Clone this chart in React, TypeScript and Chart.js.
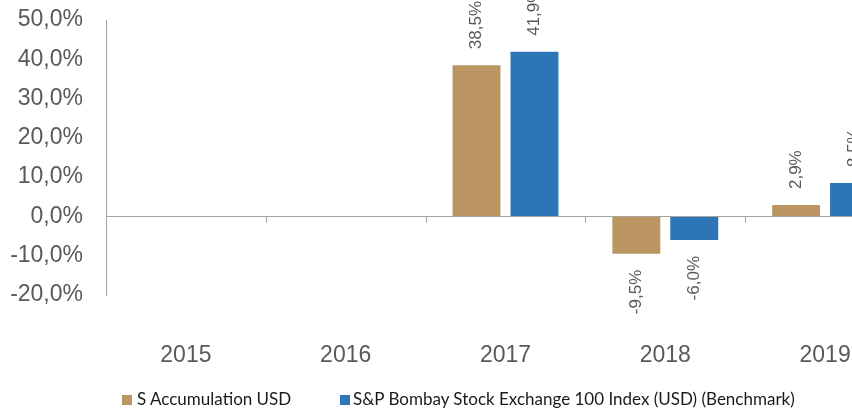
import React, { useEffect, useRef } from "react";
import { Chart, registerables } from "chart.js";

Chart.register(...registerables);

const categories = ["2015", "2016", "2017", "2018", "2019"];
const fundValues: (number | null)[] = [null, null, 38.5, -9.5, 2.9];
const benchmarkValues: (number | null)[] = [null, null, 41.9, -6.0, 8.5];
const seriesNames = [
  "S Accumulation USD",
  "S&P Bombay Stock Exchange 100 Index (USD) (Benchmark)",
];
const seriesColors = ["#BB9662", "#2E75B6"];
const yMin = -20;
const yMax = 50;
const yStep = 10;

const fmt = (v: number) => v.toFixed(1).replace(".", ",") + "%";

const AXIS_GRAY = "#A3A3A3";
const TEXT_GRAY = "#595959";

const extrasPlugin = {
  id: "extras",
  afterDatasetsDraw(chart: any) {
    const { ctx, chartArea } = chart;
    const x = chart.scales.x;
    const y = chart.scales.y;
    const zeroY = y.getPixelForValue(0);
    ctx.save();
    // category boundary tick marks below the zero line
    ctx.strokeStyle = AXIS_GRAY;
    ctx.lineWidth = 1;
    const n = categories.length;
    const bounds: number[] = [chartArea.left];
    for (let i = 0; i < n - 1; i++) {
      bounds.push((x.getPixelForValue(i) + x.getPixelForValue(i + 1)) / 2);
    }
    bounds.push(chartArea.right);
    bounds.forEach((bx) => {
      const px = Math.round(bx) + 0.5;
      ctx.beginPath();
      ctx.moveTo(px, Math.round(zeroY));
      ctx.lineTo(px, Math.round(zeroY) + 7);
      ctx.stroke();
    });
    // data labels
    ctx.fillStyle = TEXT_GRAY;
    ctx.font = "17px 'Liberation Sans', Arial, sans-serif";
    ctx.textBaseline = "middle";
    chart.data.datasets.forEach((ds: any, di: number) => {
      const meta = chart.getDatasetMeta(di);
      meta.data.forEach((bar: any, i: number) => {
        const v = ds.data[i];
        if (v === null || v === undefined) return;
        ctx.save();
        if (v >= 0) {
          ctx.translate(bar.x, bar.y - 16);
          ctx.rotate(-Math.PI / 2);
          ctx.textAlign = "left";
        } else {
          ctx.translate(bar.x, bar.y + 16);
          ctx.rotate(-Math.PI / 2);
          ctx.textAlign = "right";
        }
        ctx.fillText(fmt(v), 0, 0);
        ctx.restore();
      });
    });
    ctx.restore();
  },
};

export default function App() {
  const canvasRef = useRef<HTMLCanvasElement | null>(null);

  useEffect(() => {
    if (!canvasRef.current) return;
    const chart = new Chart(canvasRef.current, {
      type: "bar",
      data: {
        labels: categories,
        datasets: [
          {
            label: seriesNames[0],
            data: fundValues,
            backgroundColor: seriesColors[0],
            borderWidth: 0,
            categoryPercentage: 0.725,
            barPercentage: 0.8276,
          },
          {
            label: seriesNames[1],
            data: benchmarkValues,
            backgroundColor: seriesColors[1],
            borderWidth: 0,
            categoryPercentage: 0.725,
            barPercentage: 0.8276,
          },
        ],
      },
      options: {
        animation: false,
        responsive: false,
        maintainAspectRatio: false,
        layout: { padding: { left: 0, top: 20, right: 0, bottom: 38 } },
        plugins: {
          legend: { display: false },
          tooltip: { enabled: false },
        },
        scales: {
          x: {
            grid: { display: false, drawTicks: false },
            border: { display: false },
            afterFit: (s: any) => {
              s.height = 77;
            },
            ticks: {
              padding: 47,
              color: TEXT_GRAY,
              font: { family: "'Liberation Sans', Arial, sans-serif", size: 23 },
            },
          },
          y: {
            min: yMin,
            max: yMax,
            afterFit: (s: any) => {
              s.width = 106;
              s.paddingTop = 0;
              s.paddingBottom = 0;
            },
            grid: {
              drawTicks: false,
              color: (c: any) => (c.tick && c.tick.value === 0 ? AXIS_GRAY : "rgba(0,0,0,0)"),
              lineWidth: 1,
            },
            border: { display: true, color: AXIS_GRAY, width: 1 },
            ticks: {
              stepSize: yStep,
              autoSkip: false,
              padding: 23,
              color: TEXT_GRAY,
              font: { family: "'Liberation Sans', Arial, sans-serif", size: 23 },
              callback: (v: any) => fmt(Number(v)),
            },
          },
        },
      },
      plugins: [extrasPlugin],
    });
    return () => chart.destroy();
  }, []);

  const legendFont = "Lato, 'Noto Sans', sans-serif";
  return (
    <div
      style={{
        position: "fixed",
        left: 0,
        top: 0,
        width: 852,
        height: 410,
        overflow: "hidden",
        background: "#fff",
      }}
    >
      <canvas
        ref={canvasRef}
        width={905}
        height={410}
        style={{ position: "absolute", left: 0, top: 0, width: 905, height: 410 }}
      />
      {[
        { sq: 122, tx: 137 },
        { sq: 340, tx: 353 },
      ].map((p, i) => (
        <React.Fragment key={i}>
          <div
            style={{
              position: "absolute",
              left: p.sq,
              top: 395,
              width: 10,
              height: 10,
              background: seriesColors[i],
            }}
          />
          <div
            style={{
              position: "absolute",
              left: p.tx,
              top: 389,
              fontFamily: legendFont,
              fontSize: 17,
              lineHeight: "20px",
              color: "#1a1a1a",
              whiteSpace: "nowrap",
            }}
          >
            {seriesNames[i]}
          </div>
        </React.Fragment>
      ))}
    </div>
  );
}
